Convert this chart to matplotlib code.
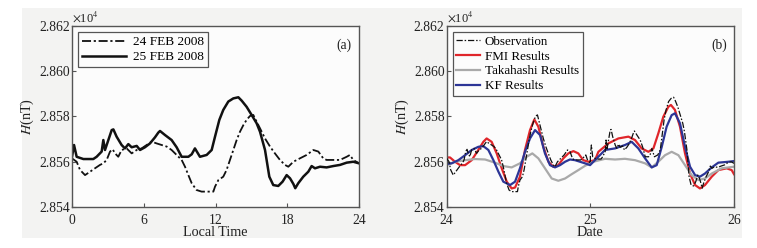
import matplotlib
matplotlib.use("Agg")
import matplotlib.pyplot as plt
import numpy as np
from matplotlib.patches import Rectangle
from matplotlib.ticker import FuncFormatter

plt.rcParams['font.family'] = ['Liberation Serif', 'DejaVu Serif']
plt.rcParams['mathtext.fontset'] = 'stix'

# ---- Panel (a): local time (h) and H (nT) ----
feb24_hours = [0.00, 0.39, 0.67, 1.09, 1.51, 1.92, 2.34, 2.62, 2.90, 3.18, 3.40, 3.60, 3.87,
               4.15, 4.57, 4.99, 5.41, 5.82, 6.24, 6.66, 7.08, 7.50, 7.92, 8.33, 8.75, 9.17,
               9.45, 9.73, 10.01, 10.42, 10.84, 11.26, 11.82, 11.96, 12.24, 12.65, 12.93,
               13.21, 13.49, 13.77, 14.05, 14.33, 14.60, 14.88, 15.16, 15.44, 15.72, 16.14,
               16.56, 16.97, 17.39, 17.81, 18.09, 18.51, 19.06, 19.62, 20.18, 20.60, 21.01,
               21.29, 21.85, 22.41, 22.97, 23.24, 23.52, 24.00]
feb24_H = [28561.5, 28560.0, 28556.4, 28554.1, 28555.6, 28557.1, 28558.6, 28559.3, 28560.8,
           28564.5, 28565.5, 28563.7, 28562.2, 28565.2, 28565.9, 28563.7, 28565.2, 28565.9,
           28567.4, 28568.9, 28568.1, 28567.4, 28566.7, 28565.2, 28563.0, 28560.8, 28557.8,
           28554.1, 28550.5, 28547.5, 28546.8, 28546.8, 28546.8, 28549.0, 28551.9, 28553.4,
           28556.4, 28560.8, 28565.2, 28569.6, 28573.3, 28576.2, 28578.5, 28580.2, 28580.7,
           28577.7, 28574.8, 28570.3, 28566.7, 28563.7, 28560.8, 28558.6, 28557.8, 28560.0,
           28561.5, 28563.0, 28565.2, 28564.5, 28561.5, 28560.8, 28560.8, 28560.8, 28562.2,
           28563.0, 28560.8, 28559.3]

feb25_hours = [0.00, 0.17, 0.39, 0.95, 1.78, 2.06, 2.48, 2.62, 2.76, 3.04, 3.32, 3.46, 3.73,
               4.15, 4.43, 4.71, 4.99, 5.41, 5.69, 6.10, 6.52, 6.94, 7.22, 7.36, 7.78, 8.33,
               8.75, 9.17, 9.73, 10.01, 10.28, 10.70, 11.26, 11.68, 11.96, 12.32, 12.65,
               13.07, 13.49, 13.91, 14.19, 14.60, 15.02, 15.44, 15.72, 16.14, 16.50, 16.83,
               17.25, 17.61, 17.95, 18.23, 18.51, 18.67, 18.92, 19.34, 19.76, 20.04, 20.32,
               20.74, 21.29, 21.85, 22.41, 22.97, 23.52, 24.00]
feb25_H = [28562.2, 28567.4, 28562.2, 28561.2, 28561.2, 28562.2, 28564.5, 28569.6, 28565.2,
           28569.6, 28574.0, 28574.3, 28571.1, 28567.4, 28565.9, 28567.8, 28566.4, 28567.0,
           28565.2, 28566.4, 28568.1, 28570.8, 28572.9, 28573.6, 28571.8, 28569.6, 28566.4,
           28562.2, 28562.2, 28563.3, 28565.9, 28562.2, 28563.0, 28565.2, 28571.1, 28578.5,
           28582.9, 28586.6, 28588.0, 28588.5, 28587.0, 28584.3, 28580.7, 28577.0, 28573.3,
           28565.2, 28553.4, 28549.7, 28549.3, 28551.2, 28554.1, 28552.7, 28550.2, 28548.3,
           28550.5, 28553.4, 28555.6, 28558.1, 28557.1, 28557.8, 28557.5, 28558.1, 28558.6,
           28559.6, 28560.0, 28559.3]

# ---- Panel (b): model results by date ----
fmi_days = [24.000, 24.023, 24.058, 24.093, 24.128, 24.174, 24.220, 24.255, 24.278, 24.313,
            24.348, 24.383, 24.418, 24.452, 24.476, 24.510, 24.545, 24.580, 24.610, 24.638,
            24.673, 24.708, 24.742, 24.777, 24.812, 24.847, 24.882, 24.916, 24.951, 24.986,
            25.032, 25.056, 25.125, 25.195, 25.265, 25.311, 25.357, 25.404, 25.439, 25.473,
            25.508, 25.543, 25.561, 25.589, 25.624, 25.659, 25.694, 25.729, 25.763, 25.798,
            25.845, 25.891, 25.949, 25.984, 26.000]
fmi_H = [28561.9, 28561.9, 28560.0, 28558.5, 28558.5, 28560.7, 28565.2, 28568.8, 28570.3,
         28568.8, 28563.7, 28557.1, 28551.2, 28548.2, 28548.6, 28553.4, 28565.2, 28574.0,
         28578.7, 28575.5, 28566.6, 28560.0, 28557.8, 28558.5, 28561.5, 28563.7, 28564.7,
         28563.7, 28560.7, 28560.0, 28560.7, 28564.4, 28568.1, 28570.3, 28571.1, 28569.6,
         28565.9, 28564.4, 28565.9, 28572.5, 28579.9, 28584.3, 28585.1, 28582.9, 28575.5,
         28563.7, 28554.8, 28549.7, 28548.2, 28549.7, 28553.4, 28556.3, 28557.1, 28556.3,
         28554.5]

taka_days = [24.000, 24.058, 24.128, 24.197, 24.267, 24.336, 24.394, 24.452, 24.510, 24.557,
             24.596, 24.638, 24.684, 24.731, 24.777, 24.824, 24.870, 24.916, 24.963, 25.021,
             25.102, 25.172, 25.241, 25.311, 25.381, 25.427, 25.473, 25.520, 25.566, 25.613,
             25.659, 25.705, 25.752, 25.798, 25.845, 25.914, 26.000]
taka_H = [28558.5, 28560.0, 28560.7, 28561.2, 28561.0, 28559.6, 28558.1, 28557.5, 28559.3,
          28562.2, 28563.7, 28561.5, 28557.1, 28552.6, 28551.6, 28552.6, 28554.5, 28556.3,
          28558.2, 28560.0, 28561.3, 28561.0, 28561.3, 28560.7, 28559.3, 28557.5, 28560.0,
          28562.9, 28564.4, 28562.9, 28558.5, 28554.1, 28551.9, 28552.6, 28554.8, 28557.1,
          28557.8]

kf_days = [24.000, 24.035, 24.081, 24.128, 24.174, 24.220, 24.255, 24.290, 24.325, 24.360,
           24.394, 24.441, 24.476, 24.510, 24.545, 24.580, 24.615, 24.650, 24.684, 24.719,
           24.754, 24.789, 24.824, 24.858, 24.893, 24.928, 24.963, 24.998, 25.032, 25.102,
           25.172, 25.241, 25.288, 25.334, 25.381, 25.427, 25.462, 25.497, 25.531, 25.566,
           25.589, 25.624, 25.659, 25.694, 25.729, 25.763, 25.798, 25.845, 25.891, 25.961,
           26.000]
kf_H = [28559.0, 28559.3, 28560.7, 28562.9, 28565.2, 28566.6, 28566.9, 28565.2, 28560.7,
        28555.6, 28551.2, 28549.7, 28551.2, 28557.1, 28564.4, 28570.3, 28574.0, 28571.8,
        28563.7, 28558.5, 28557.5, 28558.5, 28560.0, 28561.0, 28560.7, 28560.0, 28559.3,
        28558.5, 28560.7, 28565.2, 28565.9, 28567.4, 28568.8, 28565.9, 28561.5, 28557.5,
        28558.5, 28566.6, 28575.5, 28580.6, 28581.4, 28577.0, 28566.6, 28557.8, 28554.1,
        28553.4, 28554.8, 28557.5, 28559.6, 28560.0, 28560.3]

legend_a = ['24 FEB 2008', '25 FEB 2008']
legend_b = ['Observation', 'FMI Results', 'Takahashi Results', 'KF Results']
yticks = [28540, 28560, 28580, 28600, 28620]

# Observation = the two days concatenated
obs_days = np.concatenate([24 + np.array(feb24_hours) / 24.0, 25 + np.array(feb25_hours) / 24.0])
obs_H = np.concatenate([feb24_H, feb25_H])

W, H = 757, 248
fig = plt.figure(figsize=(W / 100, H / 100), dpi=100, facecolor='white')
fig.patches.append(Rectangle((22 / W, 1 - 238 / H), (742 - 22) / W, (238 - 8) / H,
                             transform=fig.transFigure, facecolor='#f3f3f2',
                             edgecolor='none', zorder=-10))

axL = fig.add_axes([72 / W, 1 - 207 / H, 287 / W, 181 / H])
axR = fig.add_axes([446.7 / W, 1 - 207 / H, 287.3 / W, 181 / H])

fmt = FuncFormatter(lambda v, p: f"{v / 1e4:.3f}")
spine_c = '#555555'
text_c = '#222222'
FS = 9.8

for ax in (axL, axR):
    ax.set_facecolor('#fcfcfc')
    ax.set_ylim(28540, 28620)
    ax.set_yticks(yticks)
    ax.yaxis.set_major_formatter(fmt)
    ax.tick_params(direction='in', length=3, width=0.8, colors=spine_c,
                   labelcolor=text_c, labelsize=FS)
    ax.tick_params(axis='y', pad=1.5)
    ax.tick_params(axis='x', pad=5)
    for s in ax.spines.values():
        s.set_color(spine_c)
        s.set_linewidth(1.0)
    ax.set_ylabel(r'$H$(nT)', fontsize=FS + 0.4, color=text_c, labelpad=2)
    ax.text(0.0, 1.01, r'$\times$10$^4$', transform=ax.transAxes, fontsize=9,
            color=text_c, ha='left', va='bottom')

# Panel (a)
axL.plot(feb24_hours, feb24_H, color='#111111', lw=1.3, ls=(0, (5, 1.5, 1.2, 1.5)),
         label=legend_a[0])
axL.plot(feb25_hours, feb25_H, color='#111111', lw=1.8, label=legend_a[1])
axL.set_xlim(0, 24)
axL.set_xticks([0, 6, 12, 18, 24])
axL.set_xlabel('Local Time', fontsize=FS + 0.4, color=text_c, labelpad=-1)
axL.text(0.975, 0.93, '(a)', transform=axL.transAxes, ha='right', va='top',
         fontsize=FS, color=text_c)
legL = axL.legend(loc='upper left', bbox_to_anchor=(0.0, 1.0), fontsize=9.6,
                  handlelength=3.3, fancybox=False, framealpha=1, borderpad=0.3,
                  labelspacing=0.2, handletextpad=0.5, borderaxespad=0.45)
legL.get_frame().set_edgecolor(spine_c)
legL.get_frame().set_linewidth(0.9)
legL.get_frame().set_facecolor('#fcfcfc')

# Panel (b)
axR.plot(obs_days, obs_H, color='#111111', lw=0.9, ls=(0, (5, 1.5, 1.2, 1.5)),
         label=legend_b[0], zorder=3)
axR.plot(fmi_days, fmi_H, color='#e0262b', lw=1.6, label=legend_b[1], zorder=2)
axR.plot(taka_days, taka_H, color='#a9a9a9', lw=1.6, label=legend_b[2], zorder=2)
axR.plot(kf_days, kf_H, color='#2c3596', lw=1.6, label=legend_b[3], zorder=2)
axR.set_xlim(24, 26)
axR.set_xticks([24, 25, 26])
axR.set_xlabel('Date', fontsize=FS + 0.4, color=text_c, labelpad=-1)
axR.text(0.975, 0.93, '(b)', transform=axR.transAxes, ha='right', va='top',
         fontsize=FS, color=text_c)
legR = axR.legend(loc='upper left', bbox_to_anchor=(0.0, 1.0), fontsize=9.4,
                  handlelength=1.8, fancybox=False, framealpha=1, borderpad=0.3,
                  labelspacing=0.2, handletextpad=0.35, borderaxespad=0.45)
legR.get_frame().set_edgecolor(spine_c)
legR.get_frame().set_linewidth(0.9)
legR.get_frame().set_facecolor('#fcfcfc')

fig.savefig('out.png', dpi=100, facecolor=fig.get_facecolor())
